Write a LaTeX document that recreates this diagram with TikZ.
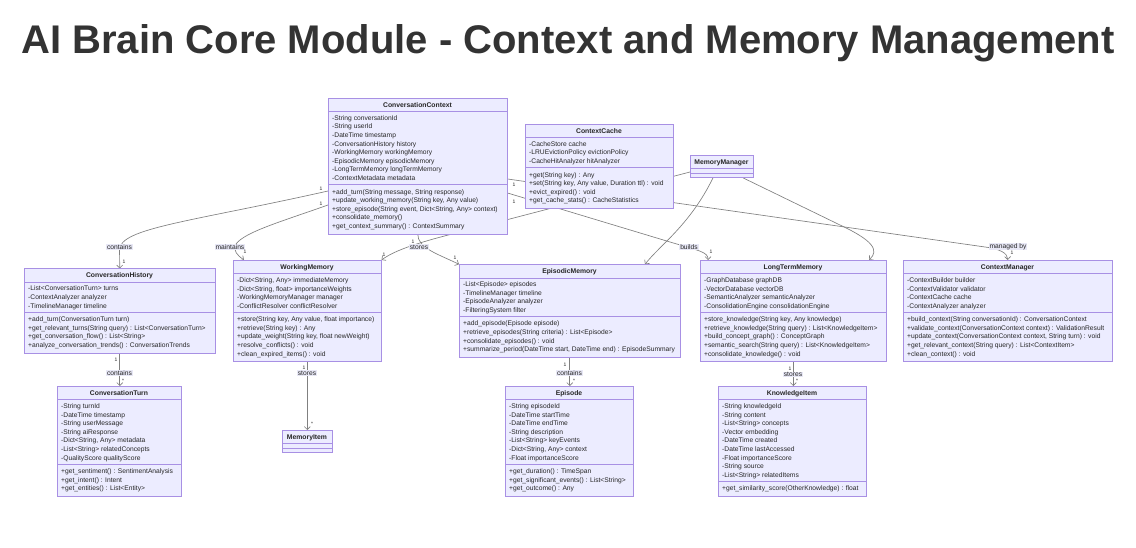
\documentclass[tikz,border=0pt]{standalone}
\usepackage{fontspec}
\setmainfont{Liberation Sans}
\usetikzlibrary{arrows.meta,calc}
\definecolor{boxfill}{HTML}{ECECFF}
\definecolor{boxline}{HTML}{A890E4}
\definecolor{edgecol}{HTML}{808080}
\definecolor{lblbg}{HTML}{E8E8F6}
\definecolor{titlecol}{HTML}{333333}
\definecolor{txtcol}{HTML}{262626}
\pgfdeclarelayer{bg}
\pgfdeclarelayer{edges}
\pgfsetlayers{bg,edges,main}
\tikzset{
 classbox/.style={draw=boxline, fill=boxfill, line width=0.55pt, inner sep=0pt, anchor=north west},
 divline/.style={draw=boxline, line width=0.55pt},
 clstitle/.style={font=\fontsize{6.8}{8}\selectfont\bfseries, text=txtcol, inner sep=0pt, anchor=base},
 member/.style={font=\fontsize{6.7}{8}\selectfont, text=txtcol, inner sep=0pt, anchor=base west},
 rel/.style={draw=edgecol, line width=0.65pt, -{Straight Barb[length=3pt,width=6pt]}},
 elabel/.style={fill=lblbg, font=\fontsize{6.7}{8}\selectfont, text=txtcol, inner xsep=1pt, inner ysep=0.8pt},
 card/.style={font=\fontsize{5}{6}\selectfont, text=txtcol, inner sep=0pt},
 maintitle/.style={font=\fontsize{40}{48}\selectfont\bfseries, text=titlecol, anchor=base, inner sep=0pt},
}
% #1 id, #2 left x, #3 width, #4 top y, #5 n attrs, #6 n methods, #7 title, #8 attrs, #9 methods
\newcommand{\umlclass}[9]{%
 \pgfmathsetmacro{\ucR}{#2+#3}%
 \pgfmathsetmacro{\ucC}{#2+#3/2}%
 \pgfmathsetmacro{\ucDa}{#4+13.5}%
 \pgfmathsetmacro{\ucDb}{(#5>0) ? (#4+20+(#5-1)*8.6+6.5) : (#4+17.8)}%
 \pgfmathsetmacro{\ucB}{(#6>0) ? (\ucDb+7+(#6-1)*8.6+7.5) : (\ucDb+4.5)}%
 \pgfmathsetmacro{\ucH}{\ucB-#4}%
 \node[classbox, minimum width=#3pt, minimum height=\ucH pt] (#1) at (#2,#4) {};
 \draw[divline] (#2,\ucDa) -- (\ucR,\ucDa);
 \draw[divline] (#2,\ucDb) -- (\ucR,\ucDb);
 \node[clstitle] (#1-title) at (\ucC,#4+9.5) {#7};
 \ifnum#5>0
  \foreach \m [count=\i] in {#8} { \node[member] (#1-a\i) at (#2+4, #4+22.4+\i*8.6-8.6) {\m}; }
 \fi
 \ifnum#6>0
  \foreach \m [count=\i] in {#9} { \node[member] (#1-m\i) at (#2+4, \ucDb+9.4+\i*8.6-8.6) {\m}; }
 \fi
}
\begin{document}
\begin{tikzpicture}[x=1pt,y=-1pt]
\begin{pgfonlayer}{bg}
\fill[white] (0,0) rectangle (1136,548);
\end{pgfonlayer}
\useasboundingbox (0,0) rectangle (1136,548);

\node[maintitle] (title) at (568,54) {AI Brain Core Module - Context and Memory Management};

\umlclass{cc}{328}{179}{98}{8}{5}{ConversationContext}
 {{-String conversationId},{-String userId},{-DateTime timestamp},{-ConversationHistory history},{-WorkingMemory workingMemory},{-EpisodicMemory episodicMemory},{-LongTermMemory longTermMemory},{-ContextMetadata metadata}}
 {{+add\_turn(String message, String response)},{+update\_working\_memory(String key, Any value)},{+store\_episode(String event, Dict<String, Any> context)},{+consolidate\_memory()},{+get\_context\_summary() : ContextSummary}}

\umlclass{cache}{525}{148}{124}{3}{4}{ContextCache}
 {{-CacheStore cache},{-LRUEvictionPolicy evictionPolicy},{-CacheHitAnalyzer hitAnalyzer}}
 {{+get(String key) : Any},{+set(String key, Any value, Duration ttl) : void},{+evict\_expired() : void},{+get\_cache\_stats() : CacheStatistics}}

\umlclass{mm}{690}{63}{155}{0}{0}{MemoryManager}{}{}

\umlclass{ch}{24}{191}{268.5}{3}{4}{ConversationHistory}
 {{-List<ConversationTurn> turns},{-ContextAnalyzer analyzer},{-TimelineManager timeline}}
 {{+add\_turn(ConversationTurn turn)},{+get\_relevant\_turns(String query) : List<ConversationTurn>},{+get\_conversation\_flow() : List<String>},{+analyze\_conversation\_trends() : ConversationTrends}}

\umlclass{wm}{233}{148}{260}{4}{5}{WorkingMemory}
 {{-Dict<String, Any> immediateMemory},{-Dict<String, float> importanceWeights},{-WorkingMemoryManager manager},{-ConflictResolver conflictResolver}}
 {{+store(String key, Any value, float importance)},{+retrieve(String key) : Any},{+update\_weight(String key, float newWeight)},{+resolve\_conflicts() : void},{+clean\_expired\_items() : void}}

\umlclass{em}{459}{221}{264.3}{4}{4}{EpisodicMemory}
 {{-List<Episode> episodes},{-TimelineManager timeline},{-EpisodeAnalyzer analyzer},{-FilteringSystem filter}}
 {{+add\_episode(Episode episode)},{+retrieve\_episodes(String criteria) : List<Episode>},{+consolidate\_episodes() : void},{+summarize\_period(DateTime start, DateTime end) : EpisodeSummary}}

\umlclass{ltm}{700}{186}{260}{4}{5}{LongTermMemory}
 {{-GraphDatabase graphDB},{-VectorDatabase vectorDB},{-SemanticAnalyzer semanticAnalyzer},{-ConsolidationEngine consolidationEngine}}
 {{+store\_knowledge(String key, Any knowledge)},{+retrieve\_knowledge(String query) : List<KnowledgeItem>},{+build\_concept\_graph() : ConceptGraph},{+semantic\_search(String query) : List<KnowledgeItem>},{+consolidate\_knowledge() : void}}

\umlclass{cm}{903}{209}{260}{4}{5}{ContextManager}
 {{-ContextBuilder builder},{-ContextValidator validator},{-ContextCache cache},{-ContextAnalyzer analyzer}}
 {{+build\_context(String conversationId) : ConversationContext},{+validate\_context(ConversationContext context) : ValidationResult},{+update\_context(ConversationContext context, String turn) : void},{+get\_relevant\_context(String query) : List<ContextItem>},{+clean\_context() : void}}

\umlclass{ct}{57}{124}{386}{7}{3}{ConversationTurn}
 {{-String turnId},{-DateTime timestamp},{-String userMessage},{-String aiResponse},{-Dict<String, Any> metadata},{-List<String> relatedConcepts},{-QualityScore qualityScore}}
 {{+get\_sentiment() : SentimentAnalysis},{+get\_intent() : Intent},{+get\_entities() : List<Entity>}}

\umlclass{mi}{282}{50}{430}{0}{0}{MemoryItem}{}{}

\umlclass{ep}{505}{128}{386}{7}{3}{Episode}
 {{-String episodeId},{-DateTime startTime},{-DateTime endTime},{-String description},{-List<String> keyEvents},{-Dict<String, Any> context},{-Float importanceScore}}
 {{+get\_duration() : TimeSpan},{+get\_significant\_events() : List<String>},{+get\_outcome() : Any}}

\umlclass{ki}{718}{148}{386}{9}{1}{KnowledgeItem}
 {{-String knowledgeId},{-String content},{-List<String> concepts},{-Vector embedding},{-DateTime created},{-DateTime lastAccessed},{-Float importanceScore},{-String source},{-List<String> relatedItems}}
 {{+get\_similarity\_score(OtherKnowledge) : float}}

\begin{pgfonlayer}{edges}
\draw[rel] (cc.west |- 0,191) .. controls (190,222) and (119.5,228) .. (119.5,250) -- (ch.north);
\draw[rel] (cc.west |- 0,205) .. controls (280,222) and (245,232) .. (236,244) .. controls (232,250) and (238,256) .. (wm.north -| 244,0);
\draw[rel] (cc.south) .. controls (417.5,248) and (438,254) .. (em.north west);
\draw[rel] (mm.west |- 0,172) -- (460,232) .. controls (420,242) and (395,250) .. (wm.north east);
\draw[rel] (mm.south -| 713,0) .. controls (690,225) and (660,245) .. (em.north -| 645,0);
\draw[rel] (mm.south -| 743,0) -- (840,225) .. controls (872,240) and (880,250) .. (ltm.north -| 869,0);
\draw[rel] (cc.east |- 0,179) -- (985,247) .. controls (1000,249) and (1007.5,253) .. (cm.north);
\draw[rel] (cc.east |- 0,193) -- (670,242) .. controls (700,251) and (708,252) .. (ltm.north -| 708,0);
\draw[rel] (ch.south) -- (ch.south |- ct.north);
\draw[rel] (wm.south) -- (wm.south |- mi.north);
\draw[rel] (em.south) -- (em.south |- ep.north);
\draw[rel] (ltm.south) -- (ltm.south |- ki.north);
\end{pgfonlayer}

% edge labels
\node[elabel] (l-contains1) at (119.5,247) {contains};
\node[elabel] (l-maintains) at (230,247) {maintains};
\node[elabel] (l-stores1) at (419,247) {stores};
\node[elabel] (l-builds) at (689,247) {builds};
\node[elabel] (l-managed) at (1008,246.5) {managed by};
\node[elabel] (l-contains2) at (119.5,373) {contains};
\node[elabel] (l-stores2) at (307,373) {stores};
\node[elabel] (l-contains3) at (569.5,373) {contains};
\node[elabel] (l-stores3) at (793,374.5) {stores};

% cardinalities
\node[card] (c1) at (321,189) {1};
\node[card] (c2) at (124,262) {1};
\node[card] (c3) at (321,204) {1};
\node[card] (c4) at (245,252) {1};
\node[card] (c5) at (413,242) {1};
\node[card] (c6) at (455,258) {1};
\node[card] (c7) at (514,185) {1};
\node[card] (c8) at (1012,253) {1};
\node[card] (c9) at (514,202) {1};
\node[card] (c10) at (711,252) {1};
\node[card] (c11) at (384,255) {1};
\node[card] (c12) at (116,360) {1};
\node[card] (c13) at (123,381) {*};
\node[card] (c14) at (304,368) {1};
\node[card] (c15) at (312,424) {*};
\node[card] (c16) at (565,365) {1};
\node[card] (c17) at (574,381) {*};
\node[card] (c18) at (790,369) {1};
\node[card] (c19) at (797,381) {*};
\end{tikzpicture}
\end{document}
